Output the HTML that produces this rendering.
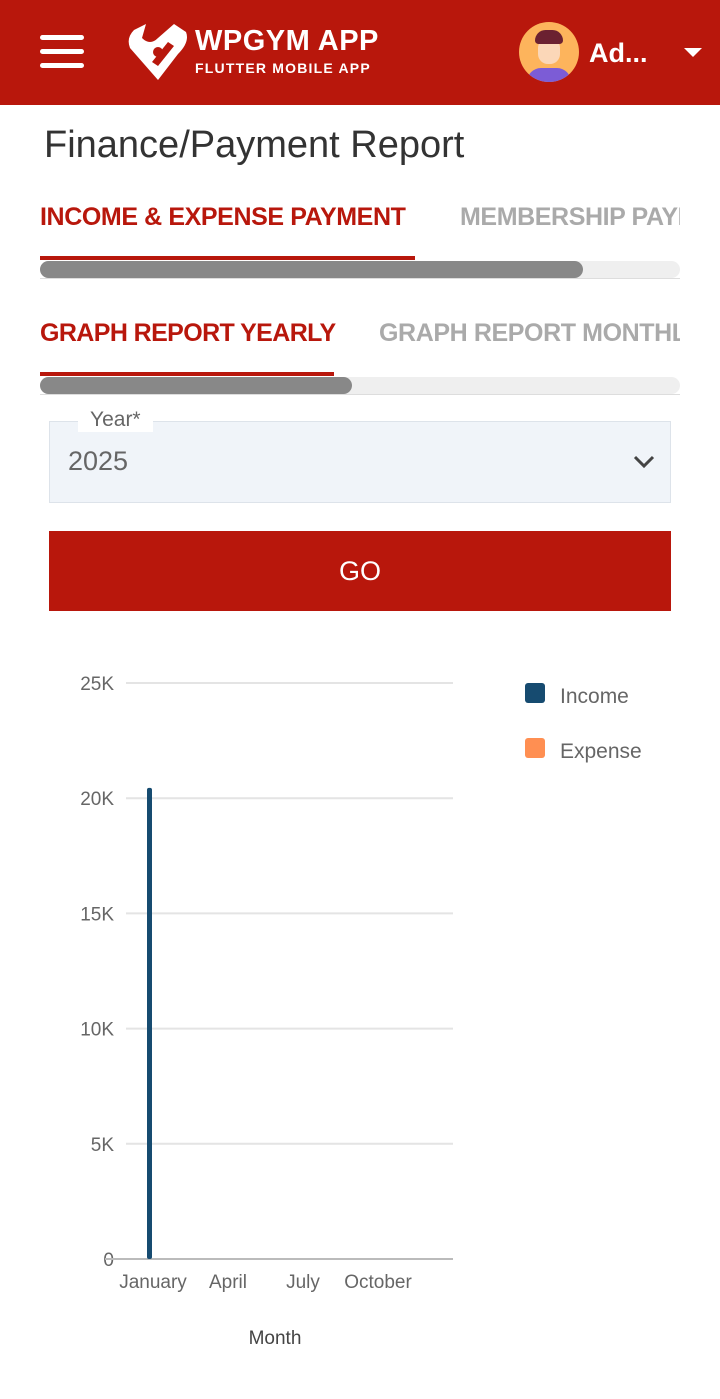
<!DOCTYPE html>
<html><head><meta charset="utf-8">
<style>
body{margin:0;width:720px;height:1399px;background:#fff;font-family:"Liberation Sans",sans-serif;position:relative;overflow:hidden}
.abs{position:absolute}
</style></head><body>
<div class="abs" style="left:0;top:0;width:720px;height:105px;background:#b8170c"></div>
<div class="abs" style="left:40px;top:35px;width:44px;height:34px">
 <div style="position:absolute;top:0;width:44px;height:5px;border-radius:3px;background:#fff"></div>
 <div style="position:absolute;top:14px;width:44px;height:5px;border-radius:3px;background:#fff"></div>
 <div style="position:absolute;top:28px;width:44px;height:5px;border-radius:3px;background:#fff"></div>
</div>
<svg class="abs" style="left:128px;top:22px" width="64" height="60" viewBox="0 0 64 60">
 <path d="M6 8 L18 2 L14 16 Q22 24 30 16 L46 2 L58 10 Q62 20 50 32 L30 58 L2 26 Q-2 16 6 8Z" fill="#fff"/>
 <circle cx="30" cy="30" r="5" fill="#b8170c"/><path d="M24 40 L40 20 L46 24 L30 44Z" fill="#b8170c"/>
</svg>
<div class="abs" style="left:195px;top:25px;color:#fff;font-weight:bold;font-size:29px;letter-spacing:0.5px">WPGYM APP</div>
<div class="abs" style="left:195px;top:60px;color:#fff;font-weight:bold;font-size:14px;letter-spacing:1.2px">FLUTTER MOBILE APP</div>
<div class="abs" style="left:519px;top:22px;width:60px;height:60px;border-radius:50%;background:#fdb45c;overflow:hidden">
 <div style="position:absolute;left:19px;top:16px;width:22px;height:26px;border-radius:10px;background:#fbd7b8"></div>
 <div style="position:absolute;left:16px;top:8px;width:28px;height:14px;border-radius:12px 12px 4px 4px;background:#6b2131"></div>
 <div style="position:absolute;left:8px;top:46px;width:44px;height:20px;border-radius:14px 14px 0 0;background:#7c5cd6"></div>
</div>
<div class="abs" style="left:589px;top:38px;color:#fff;font-size:27px;font-weight:bold">Ad...</div>
<div class="abs" style="left:684px;top:48px;width:0;height:0;border-left:9px solid transparent;border-right:9px solid transparent;border-top:9px solid #fff"></div>

<div class="abs" style="left:44px;top:124px;font-size:38px;color:#333">Finance/Payment Report</div>

<div class="abs" style="left:40px;top:203px;font-size:25px;font-weight:bold;color:#b8170c;letter-spacing:-0.4px">INCOME &amp; EXPENSE PAYMENT</div>
<div class="abs" style="left:460px;top:203px;width:220px;overflow:hidden;white-space:nowrap;font-size:25px;font-weight:bold;color:#aaa;letter-spacing:-0.4px">MEMBERSHIP PAYMENT</div>
<div class="abs" style="left:40px;top:256px;width:375px;height:4px;background:#b8170c"></div>
<div class="abs" style="left:40px;top:261px;width:640px;height:17px;border-radius:9px;background:#efefef"></div>
<div class="abs" style="left:40px;top:261px;width:543px;height:17px;border-radius:9px;background:#888"></div>
<div class="abs" style="left:40px;top:278px;width:640px;height:1px;background:#ddd"></div>

<div class="abs" style="left:40px;top:319px;font-size:25px;font-weight:bold;color:#b8170c;letter-spacing:-0.6px">GRAPH REPORT YEARLY</div>
<div class="abs" style="left:379px;top:319px;width:301px;overflow:hidden;white-space:nowrap;font-size:25px;font-weight:bold;color:#aaa;letter-spacing:-0.4px">GRAPH REPORT MONTHLY</div>
<div class="abs" style="left:40px;top:372px;width:294px;height:4px;background:#b8170c"></div>
<div class="abs" style="left:40px;top:377px;width:640px;height:17px;border-radius:9px;background:#efefef"></div>
<div class="abs" style="left:40px;top:377px;width:312px;height:17px;border-radius:9px;background:#888"></div>
<div class="abs" style="left:40px;top:394px;width:640px;height:1px;background:#ddd"></div>

<div class="abs" style="left:49px;top:421px;width:620px;height:80px;background:#f0f4f9;border:1px solid #dde3ea"></div>
<div class="abs" style="left:78px;top:408px;padding:0 12px;background:#fff;font-size:21px;color:#666">Year*</div>
<div class="abs" style="left:68px;top:446px;font-size:27px;color:#666">2025</div>
<svg class="abs" style="left:632px;top:454px" width="24" height="16"><path d="M3 3 L12 12 L21 3" stroke="#444" stroke-width="3" fill="none"/></svg>

<div class="abs" style="left:49px;top:531px;width:622px;height:80px;background:#b8170c;color:#fff;font-size:27px;text-align:center;line-height:80px">GO</div>

<svg class="abs" id="chart" style="left:0;top:640px" width="720" height="740"></svg>
<script>
const months=["January","February","March","April","May","June","July","August","September","October","November","December"];
const incomeValues=[20450,0,0,0,0,0,0,0,0,0,0,0];
const expenseValues=[0,0,0,0,0,0,0,0,0,0,0,0];
const yTicks=[0,5000,10000,15000,20000,25000];
const yTickLabels=["0","5K","10K","15K","20K","25K"];
const xLabelIdx=[0,3,6,9];
const OY=640;
const y=v=>1259-OY-(v/25000)*576;
const x=i=>153+25*i;
const svg=document.getElementById('chart');
const NS='http://www.w3.org/2000/svg';
function mk(t,a){const e=document.createElementNS(NS,t);for(const k in a)e.setAttribute(k,a[k]);svg.appendChild(e);return e;}
yTicks.forEach((v,i)=>{
 if(i>0){const g=mk('line',{x1:126,x2:453,y1:y(v),y2:y(v),stroke:'#e4e4e4','stroke-width':2});
 
 }
 const t=mk('text',{x:114,y:y(v)+7,'text-anchor':'end','font-size':19,fill:'#666','font-family':'Liberation Sans'});
 t.textContent=yTickLabels[i];
 
 
});
const ax=mk('line',{x1:105,x2:453,y1:y(0),y2:y(0),stroke:'#bbb','stroke-width':2});


xLabelIdx.forEach(i=>{
 const t=mk('text',{x:x(i),y:y(0)+29,'text-anchor':'middle','font-size':19,fill:'#666','font-family':'Liberation Sans'});
 t.textContent=months[i];
 
 
});
months.forEach((m,i)=>{
 if(incomeValues[i]>0){const b=mk('rect',{x:x(i)-6,y:y(incomeValues[i]),width:5,height:y(0)-y(incomeValues[i]),rx:2,fill:'#164b70'});
 
 }
 if(expenseValues[i]>0){const b=mk('rect',{x:x(i),y:y(expenseValues[i]),width:5,height:y(0)-y(expenseValues[i]),rx:2,fill:'#ff8f52'});
 
 }
});
const xt=mk('text',{x:275,y:704,'text-anchor':'middle','font-size':19,fill:'#444','font-family':'Liberation Sans'});
xt.textContent='Month';


[['Income','#164b70',56],['Expense','#ff8f52',111]].forEach(([n,c,yy])=>{
 const r=mk('rect',{x:525,y:yy-13,width:20,height:20,rx:3,fill:c});
 
 
 const t=mk('text',{x:560,y:yy+7,'font-size':21,fill:'#666','font-family':'Liberation Sans'});
 t.textContent=n;
 
 
});
</script>
</body></html>
